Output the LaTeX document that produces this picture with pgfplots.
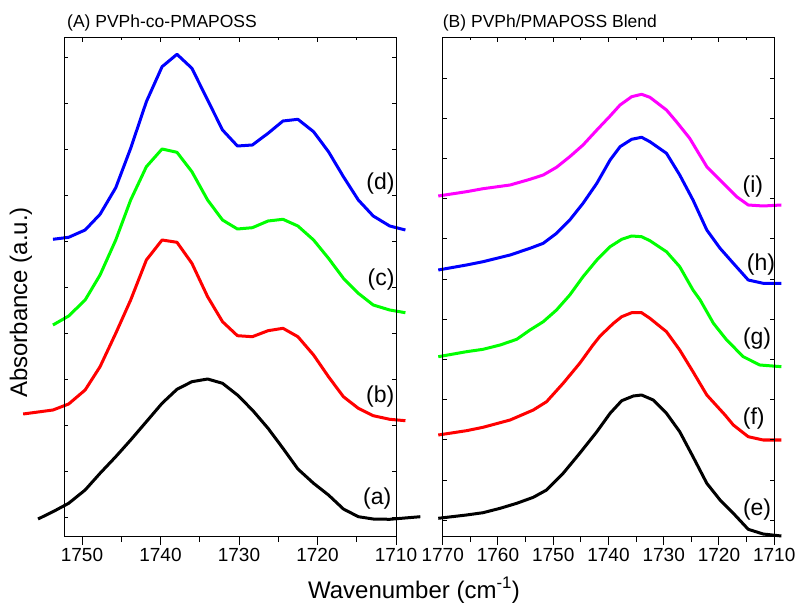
\documentclass[border=0pt]{standalone}
\usepackage{fontspec}
\setmainfont{Liberation Sans}
\usepackage{pgfplots}
\pgfplotsset{compat=1.18}

\definecolor{cblue}{RGB}{0,0,255}
\definecolor{cgreen}{RGB}{0,255,0}
\definecolor{cred}{RGB}{255,0,0}
\definecolor{cmag}{RGB}{255,0,255}

\tikzset{lab/.style={font=\fontsize{23}{26}\selectfont}}
\pgfplotsset{
  panel/.style={
    width=331.5pt, height=498pt, scale only axis,
    ymin=0, ymax=4.98, x dir=reverse, clip=false,
    axis line style={line width=1pt},
    tick style={line width=1pt, black},
    minor x tick num=1,
  },
  spec/.style={line width=3pt, no markers, line join=round},
  ticklab/.style={
    xticklabel style={font=\fontsize{19}{22}\selectfont},
    /pgf/number format/1000 sep={},
    /pgf/number format/assume math mode=true,
    xtick pos=bottom, ytick=\empty, tick align=outside,
    major tick length=9pt, minor tick length=6pt,
  },
  boxticks/.style={
    xtick pos=top, ytick pos=both, tick align=inside,
    major tick length=4pt, minor tick length=2.5pt,
    xticklabels={}, yticklabels={},
  },
}

\begin{document}
\begin{tikzpicture}
\useasboundingbox (0,0) rectangle (799pt,610pt);

% (A) copolymer
\begin{axis}[panel, ticklab, at={(64.5pt,74pt)}, anchor=south west,
  xmin=1710, xmax=1752.23, xtick={1710,1720,1730,1740,1750}]
  \addplot[spec, black] coordinates {
    (1755.6,0.170) (1753.7,0.243) (1751.7,0.327) (1749.6,0.460) (1747.7,0.627)
    (1745.7,0.793) (1743.8,0.960) (1741.8,1.143) (1739.8,1.327) (1737.9,1.467)
    (1736.0,1.543) (1734.0,1.570) (1732.1,1.527) (1730.2,1.410) (1728.3,1.260)
    (1726.3,1.077) (1724.4,0.877) (1722.5,0.670) (1720.5,0.527) (1718.6,0.410)
    (1716.7,0.270) (1714.8,0.193) (1712.9,0.170) (1710.8,0.167) (1706.9,0.193)};
  \addplot[spec, cred] coordinates {
    (1757.5,1.220) (1753.7,1.260) (1751.7,1.320) (1749.6,1.460) (1747.7,1.693)
    (1745.7,2.027) (1743.8,2.360) (1741.8,2.760) (1739.8,2.960) (1737.9,2.937)
    (1736.0,2.727) (1734.0,2.393) (1732.1,2.143) (1730.2,2.003) (1728.3,1.993)
    (1726.3,2.053) (1724.4,2.077) (1722.5,1.993) (1720.5,1.810) (1718.6,1.593)
    (1716.7,1.393) (1714.8,1.277) (1712.9,1.203) (1710.8,1.167) (1708.8,1.153)};
  \addplot[spec, cgreen] coordinates {
    (1753.7,2.110) (1751.7,2.200) (1749.6,2.360) (1747.7,2.610) (1745.7,2.960)
    (1743.8,3.360) (1741.8,3.693) (1739.8,3.870) (1737.9,3.837) (1736.0,3.643)
    (1734.0,3.360) (1732.1,3.160) (1730.2,3.070) (1728.3,3.083) (1726.3,3.150)
    (1724.4,3.167) (1722.5,3.100) (1720.5,2.960) (1718.6,2.777) (1716.7,2.577)
    (1714.8,2.427) (1712.9,2.310) (1710.8,2.260) (1708.8,2.233)};
  \addplot[spec, cblue] coordinates {
    (1753.7,2.967) (1751.7,2.987) (1749.6,3.060) (1747.7,3.217) (1745.7,3.483)
    (1743.8,3.877) (1741.8,4.343) (1739.8,4.693) (1737.9,4.817) (1736.0,4.677)
    (1734.0,4.360) (1732.1,4.060) (1730.2,3.900) (1728.3,3.910) (1726.3,4.027)
    (1724.4,4.150) (1722.5,4.167) (1720.5,4.043) (1718.6,3.843) (1716.7,3.593)
    (1714.8,3.360) (1712.9,3.200) (1710.8,3.100) (1708.8,3.060)};
  \node[lab] at (axis cs:1711.97,3.527) {(d)};
  \node[lab] at (axis cs:1711.9,2.56) {(c)};
  \node[lab] at (axis cs:1712.0,1.393) {(b)};
  \node[lab] at (axis cs:1712.4,0.377) {(a)};
  \node[anchor=base west, inner sep=0pt, font=\fontsize{17.5}{20}\selectfont]
    at (rel axis cs:0,1) [xshift=2.5pt, yshift=10pt] {(A) PVPh-co-PMAPOSS};
\end{axis}
\begin{axis}[panel, boxticks, at={(64.5pt,74pt)}, anchor=south west,
  xmin=1710, xmax=1752.23, xtick={1710,1720,1730,1740,1750},
  ytick={0.184,0.644,1.104,1.564,2.024,2.484,2.944,3.404,3.864,4.324,4.784}]
\end{axis}

% (B) blend
\begin{axis}[panel, ticklab, at={(442.7pt,74pt)}, anchor=south west,
  xmin=1710, xmax=1770, xtick={1710,1720,1730,1740,1750,1760,1770}]
  \addplot[spec, black] coordinates {
    (1770.8,0.177) (1765.7,0.210) (1762.7,0.233) (1759.6,0.277) (1756.6,0.327)
    (1753.6,0.387) (1751.2,0.460) (1748.2,0.627) (1745.2,0.827) (1742.1,1.043)
    (1739.7,1.227) (1737.6,1.353) (1735.5,1.400) (1734.0,1.410) (1731.9,1.360)
    (1729.5,1.227) (1727.1,1.043) (1724.7,0.793) (1722.2,0.527) (1719.8,0.360)
    (1717.4,0.227) (1714.7,0.067) (1712.0,0.020) (1708.7,0.000)};
  \addplot[spec, cred] coordinates {
    (1770.8,1.010) (1765.7,1.053) (1762.7,1.087) (1757.8,1.160) (1753.6,1.260)
    (1751.2,1.343) (1748.2,1.527) (1745.2,1.727) (1742.8,1.910) (1741.5,2.000)
    (1739.1,2.127) (1737.6,2.193) (1735.8,2.233) (1734.0,2.233) (1732.5,2.177)
    (1729.5,2.043) (1727.1,1.860) (1724.7,1.643) (1722.2,1.410) (1718.9,1.210)
    (1717.4,1.110) (1714.7,0.993) (1712.0,0.960) (1708.7,0.960)};
  \addplot[spec, cgreen] coordinates {
    (1770.8,1.793) (1765.7,1.843) (1762.7,1.867) (1759.6,1.910) (1756.6,1.967)
    (1754.2,2.060) (1751.8,2.143) (1749.4,2.260) (1747.0,2.410) (1744.6,2.593)
    (1742.1,2.760) (1739.7,2.893) (1737.6,2.967) (1735.8,3.000) (1734.0,2.993)
    (1732.5,2.953) (1729.5,2.843) (1727.1,2.693) (1724.7,2.460) (1723.4,2.360)
    (1721.0,2.127) (1718.6,1.960) (1715.6,1.793) (1712.6,1.710) (1708.7,1.693)};
  \addplot[spec, cblue] coordinates {
    (1770.8,2.660) (1765.7,2.710) (1762.7,2.743) (1757.8,2.810) (1754.2,2.877)
    (1751.8,2.927) (1749.4,3.027) (1747.0,3.160) (1744.6,3.327) (1742.1,3.527)
    (1739.7,3.760) (1737.9,3.893) (1735.8,3.967) (1734.0,3.987) (1732.5,3.943)
    (1729.5,3.827) (1727.1,3.610) (1724.7,3.360) (1722.2,3.060) (1719.8,2.877)
    (1717.4,2.727) (1714.7,2.560) (1712.0,2.527) (1708.7,2.527)};
  \addplot[spec, cmag] coordinates {
    (1770.8,3.400) (1765.7,3.443) (1762.7,3.473) (1757.8,3.510) (1754.2,3.567)
    (1751.8,3.610) (1749.4,3.687) (1747.0,3.793) (1744.6,3.910) (1742.1,4.060)
    (1739.7,4.200) (1737.9,4.310) (1735.8,4.393) (1734.0,4.417) (1732.5,4.387)
    (1729.5,4.260) (1727.7,4.143) (1725.3,3.977) (1722.2,3.693) (1719.2,3.527)
    (1716.8,3.393) (1714.7,3.310) (1712.0,3.300) (1708.7,3.310)};
  \node[lab] at (axis cs:1713.86,3.493) {(i)};
  \node[lab] at (axis cs:1712.4,2.71) {(h)};
  \node[lab] at (axis cs:1713.1,1.977) {(g)};
  \node[lab] at (axis cs:1713.7,1.177) {(f)};
  \node[lab] at (axis cs:1713.1,0.26) {(e)};
  \node[anchor=base west, inner sep=0pt, font=\fontsize{17.5}{20}\selectfont]
    at (rel axis cs:0,1) [yshift=10pt] {(B) PVPh/PMAPOSS Blend};
\end{axis}
\begin{axis}[panel, boxticks, at={(442.7pt,74pt)}, anchor=south west,
  xmin=1710, xmax=1770, xtick={1710,1720,1730,1740,1750,1760,1770},
  ytick={0.157,0.559,0.961,1.363,1.765,2.167,2.569,2.971,3.373,3.775,4.177,4.579}]
\end{axis}

\node[rotate=90, font=\fontsize{24}{28}\selectfont] at (21pt,307.5pt) {Absorbance (a.u.)};
\node[anchor=base, font=\fontsize{24}{28}\selectfont] at (414pt,12pt)
  {Wavenumber (cm\textsuperscript{-1})};
\end{tikzpicture}
\end{document}
